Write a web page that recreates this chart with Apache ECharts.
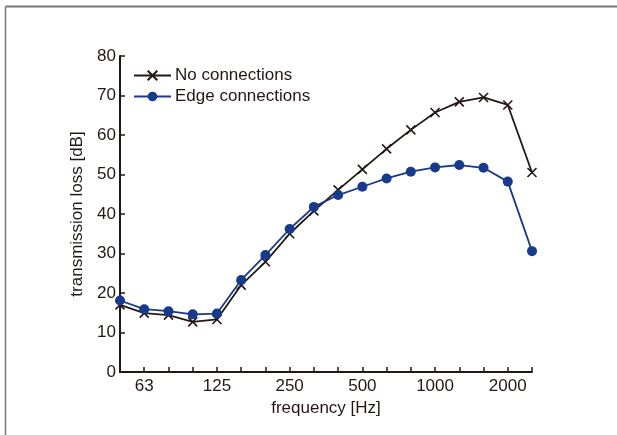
<!DOCTYPE html>
<html>
<head>
<meta charset="utf-8">
<script src="https://cdn.jsdelivr.net/npm/echarts@6/dist/echarts.min.js"></script>
<style>
html,body{margin:0;padding:0;background:#fff;}
#chart{width:617px;height:435px;}
</style>
</head>
<body>
<div id="chart"></div>
<script>
const frequencies = ['50','63','80','100','125','160','200','250','315','400','500','630','800','1000','1250','1600','2000','2500'];
const octaveLabels = ['63','125','250','500','1000','2000'];
const noConnections = [17.0,14.9,14.4,12.7,13.3,22.0,27.9,35.0,40.8,46.1,51.3,56.5,61.3,65.7,68.4,69.5,67.6,50.5];
const edgeConnections = [18.1,15.9,15.4,14.6,14.8,23.3,29.6,36.2,41.8,44.8,46.9,49.0,50.7,51.8,52.4,51.7,48.2,30.6];

const axisColor = '#231815';
const textColor = '#231815';
const font = 'Liberation Sans, Arial, sans-serif';

const chart = echarts.init(document.getElementById('chart'));
chart.setOption({
  animation: false,
  backgroundColor: '#fff',
  graphic: [
    {type:'line', shape:{x1:5.5,y1:6.5,x2:617,y2:6.5}, style:{stroke:'#777',lineWidth:2}},
    {type:'line', shape:{x1:5.5,y1:6.5,x2:5.5,y2:435}, style:{stroke:'#777',lineWidth:1.5}}
  ],
  grid: {left:120, right:85, top:56, bottom:63, containLabel:false},
  legend: {
    left: 128, top: 62, orient: 'vertical', itemGap: 4,
    itemWidth: 37, itemHeight: 12,
    textStyle: {color:textColor, fontSize:17, fontFamily:font, padding:[0,0,0,-1]},
    data: ['No connections','Edge connections']
  },
  xAxis: {
    type: 'category', data: frequencies, boundaryGap: false,
    name: 'frequency [Hz]', nameLocation: 'middle', nameGap: 28,
    nameTextStyle: {color:textColor, fontSize:17, fontFamily:font},
    axisLine: {lineStyle:{color:axisColor, width:2}},
    axisTick: {inside:true, interval:0, length:5, lineStyle:{color:axisColor, width:1.5}},
    axisLabel: {
      interval: 0, color:textColor, fontSize:17, fontFamily:font, margin:6,
      formatter: v => octaveLabels.includes(v) ? v : ''
    },
    splitLine: {show:false}
  },
  yAxis: {
    type: 'value', min: 0, max: 80, interval: 10,
    name: 'transmission loss [dB]', nameLocation: 'middle', nameGap: 26,
    nameTextStyle: {color:textColor, fontSize:17, fontFamily:font},
    axisLine: {show:true, lineStyle:{color:axisColor, width:2}},
    axisTick: {show:true, inside:true, length:5, lineStyle:{color:axisColor, width:1.5}},
    axisLabel: {color:textColor, fontSize:17, fontFamily:font, margin:4},
    splitLine: {show:false}
  },
  series: [
    {
      name: 'No connections', type: 'line', data: noConnections,
      symbol: 'path://M0,0L10,10M10,0L0,10', symbolSize: 9,
      itemStyle: {color:'#231815', borderColor:'#231815', borderWidth:1.6},
      lineStyle: {color:'#231815', width:1.8},
      z: 2
    },
    {
      name: 'Edge connections', type: 'line', data: edgeConnections,
      symbol: 'circle', symbolSize: 10,
      itemStyle: {color:'#173a8c'},
      lineStyle: {color:'#173a8c', width:1.8},
      z: 3
    }
  ]
});
</script>
</body>
</html>
